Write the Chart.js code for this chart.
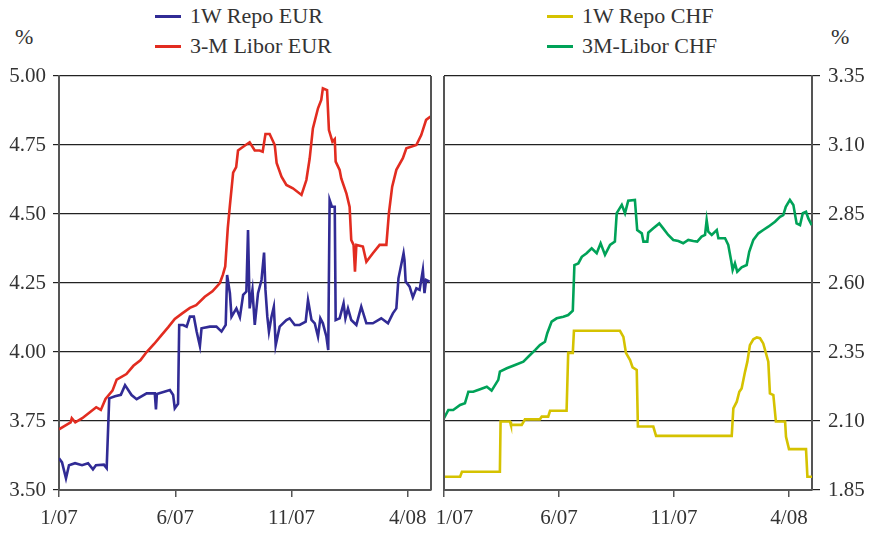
<!DOCTYPE html>
<html>
<head>
<meta charset="utf-8">
<script src="https://cdn.jsdelivr.net/npm/chart.js@4.4.1/dist/chart.umd.min.js"></script>
<style>
  body{margin:0;background:#fff;width:870px;height:534px;overflow:hidden;position:relative;font-family:"Liberation Serif",serif;color:#333}
  canvas{position:absolute;left:0;top:0}
  .lg{position:absolute;font-size:22px;line-height:30px;white-space:nowrap}
  .lg i{display:inline-block;width:26px;height:3px;vertical-align:middle;margin-right:9px;position:relative;top:-1px}
  .pc{position:absolute;font-size:22px;line-height:22px}
</style>
</head>
<body>
<div class="pc" style="left:15px;top:26px">%</div>
<div class="pc" style="left:831px;top:26px">%</div>
<div class="lg" style="left:155px;top:1px">
  <div><i style="background:#312b95"></i>1W Repo EUR</div>
  <div><i style="background:#e22c20"></i>3-M Libor EUR</div>
</div>
<div class="lg" style="left:547px;top:1px">
  <div><i style="background:#d5c200"></i>1W Repo CHF</div>
  <div><i style="background:#00a258"></i>3M-Libor CHF</div>
</div>
<canvas id="eur" width="870" height="534"></canvas>
<canvas id="chf" width="870" height="534"></canvas>
<script>
// x values are months since 1/07
const tickMonths = [0, 5, 10, 15];
const tickLabels = ['1/07', '6/07', '11/07', '4/08'];
const eurTicks = [3.50, 3.75, 4.00, 4.25, 4.50, 4.75, 5.00];
const chfTicks = [1.85, 2.10, 2.35, 2.60, 2.85, 3.10, 3.35];

const repoEurX = [0,0.13,0.30,0.43,0.69,0.99,1.25,1.46,1.59,1.93,2.05,2.16,2.41,2.66,2.84,3.12,3.34,3.77,4.12,4.17,4.21,4.77,4.91,4.98,5.12,5.17,5.34,5.49,5.63,5.80,5.92,6.06,6.13,6.49,6.77,6.99,7.17,7.23,7.35,7.42,7.63,7.78,7.92,8.06,8.13,8.20,8.32,8.42,8.56,8.71,8.82,8.88,8.96,9.03,9.14,9.24,9.32,9.49,9.78,9.92,10.14,10.35,10.61,10.71,10.86,11.00,11.14,11.24,11.35,11.50,11.58,11.64,11.74,11.86,11.90,12.07,12.24,12.32,12.43,12.57,12.79,13.00,13.22,13.50,13.86,14.15,14.36,14.51,14.60,14.82,14.86,14.91,15.08,15.22,15.37,15.51,15.65,15.72,15.79,15.94];
const repoEurY = [3.615,3.60,3.542,3.59,3.597,3.59,3.597,3.575,3.59,3.592,3.579,3.832,3.84,3.845,3.88,3.844,3.829,3.85,3.85,3.792,3.848,3.862,3.844,3.796,3.812,4.098,4.098,4.092,4.128,4.128,4.074,4.022,4.086,4.092,4.092,4.074,4.098,4.279,4.213,4.128,4.158,4.126,4.207,4.219,4.442,4.158,4.225,4.098,4.213,4.261,4.36,4.225,4.128,4.074,4.128,4.164,4.025,4.092,4.116,4.122,4.098,4.098,4.11,4.188,4.116,4.104,4.056,4.122,4.104,4.056,4.007,4.551,4.526,4.526,4.116,4.122,4.176,4.122,4.158,4.116,4.098,4.164,4.104,4.104,4.122,4.104,4.14,4.158,4.267,4.358,4.333,4.255,4.237,4.198,4.231,4.225,4.297,4.213,4.261,4.255];

const liborEurX = [0,0.3,0.5,0.55,0.7,1.0,1.3,1.6,1.8,2.0,2.3,2.48,2.9,3.2,3.5,3.77,4.1,4.4,4.7,4.98,5.3,5.63,5.9,6.27,6.6,6.92,7.05,7.15,7.26,7.35,7.49,7.62,7.70,7.86,8.03,8.20,8.42,8.63,8.76,8.88,9.06,9.28,9.36,9.57,9.78,10.06,10.43,10.64,10.78,10.92,11.14,11.28,11.35,11.53,11.61,11.76,11.86,11.90,12.07,12.14,12.36,12.50,12.57,12.67,12.73,12.79,13.07,13.22,13.50,13.79,14.08,14.19,14.33,14.51,14.79,14.94,15.37,15.58,15.79,15.98];
const liborEurY = [3.72,3.735,3.745,3.76,3.745,3.76,3.78,3.80,3.79,3.83,3.86,3.90,3.92,3.95,3.97,4.00,4.03,4.06,4.09,4.12,4.14,4.16,4.17,4.20,4.22,4.25,4.28,4.31,4.45,4.53,4.65,4.67,4.73,4.74,4.75,4.76,4.73,4.73,4.726,4.79,4.79,4.75,4.685,4.635,4.605,4.593,4.569,4.623,4.70,4.81,4.883,4.913,4.955,4.949,4.804,4.762,4.771,4.69,4.66,4.629,4.575,4.526,4.406,4.388,4.291,4.388,4.382,4.327,4.358,4.388,4.388,4.503,4.599,4.66,4.702,4.738,4.75,4.786,4.841,4.853];

const repoChfX = [0,0.70,0.78,2.43,2.46,2.87,2.91,3.38,3.52,4.17,4.25,4.53,4.61,5.33,5.40,5.60,5.65,7.65,7.80,7.91,8.09,8.20,8.38,8.43,9.10,9.22,12.51,12.58,12.73,12.84,12.94,13.09,13.19,13.30,13.45,13.60,13.74,13.88,14.10,14.17,14.32,14.43,14.83,14.87,15.00,15.74,15.80,16.0];
const repoChfY = [1.898,1.898,1.916,1.916,2.098,2.098,2.086,2.086,2.106,2.106,2.116,2.116,2.137,2.137,2.347,2.347,2.427,2.427,2.405,2.347,2.321,2.294,2.285,2.08,2.08,2.046,2.046,2.146,2.17,2.206,2.218,2.279,2.315,2.375,2.396,2.403,2.40,2.381,2.315,2.20,2.194,2.098,2.098,2.043,1.998,1.998,1.898,1.898];

const liborChfX = [0,0.19,0.40,0.70,0.91,1.06,1.27,1.57,1.86,2.07,2.36,2.43,2.73,3.09,3.45,3.74,3.96,4.17,4.39,4.49,4.68,4.90,5.19,5.40,5.60,5.67,5.84,5.99,6.20,6.42,6.64,6.81,7.00,7.22,7.43,7.51,7.73,7.87,8.01,8.30,8.40,8.60,8.67,8.84,8.88,9.10,9.36,9.53,9.75,9.97,10.19,10.40,10.62,10.84,11.01,11.20,11.35,11.42,11.49,11.64,11.86,11.93,12.22,12.36,12.48,12.55,12.65,12.75,12.94,13.16,13.27,13.45,13.67,13.88,14.10,14.39,14.61,14.75,14.86,15.04,15.19,15.33,15.48,15.60,15.74,15.84,15.99];
const liborChfY = [2.11,2.14,2.14,2.158,2.164,2.206,2.206,2.215,2.224,2.21,2.249,2.279,2.291,2.303,2.315,2.339,2.357,2.375,2.387,2.418,2.46,2.472,2.478,2.484,2.50,2.665,2.671,2.695,2.708,2.726,2.708,2.744,2.702,2.738,2.75,2.853,2.883,2.853,2.898,2.901,2.792,2.78,2.75,2.75,2.782,2.798,2.816,2.798,2.774,2.756,2.752,2.744,2.756,2.752,2.75,2.768,2.774,2.828,2.786,2.774,2.792,2.762,2.762,2.738,2.683,2.647,2.671,2.641,2.657,2.665,2.713,2.756,2.78,2.792,2.804,2.822,2.84,2.846,2.876,2.901,2.883,2.816,2.81,2.853,2.858,2.834,2.81];

const font = { family: 'Liberation Serif', size: 21 };
const pts = (xs, ys) => xs.map((x, i) => ({ x: x, y: ys[i] }));

// plain vertical edge on the side of the plot that has no axis
const frameEdge = {
  id: 'frameEdge',
  afterDraw(chart, args, opts) {
    const a = chart.chartArea, ctx = chart.ctx;
    const x = opts.side === 'right' ? a.right : a.left;
    ctx.save();
    ctx.strokeStyle = '#555';
    ctx.lineWidth = 2;
    ctx.beginPath();
    ctx.moveTo(x, a.top);
    ctx.lineTo(x, a.bottom);
    ctx.stroke();
    ctx.restore();
  }
};

// shiftFirst: the right panel nudges its first label right so it clears "4/08"
function xAxis(shiftFirst) {
  return {
    type: 'linear', min: 0, max: 16,
    afterBuildTicks: s => { s.ticks = tickMonths.map(v => ({ value: v })); },
    afterFit: s => { s.height = 44; },
    ticks: {
      callback: (v, i) => (shiftFirst && i === 0 ? '    ' : '') + tickLabels[tickMonths.indexOf(v)],
      color: '#333', font: font, padding: 9, maxRotation: 0, autoSkip: false
    },
    grid: { drawOnChartArea: false, tickLength: 7, color: '#555', lineWidth: 1.5 },
    border: { color: '#555', width: 2 }
  };
}

function yAxis(ticks, pos, width) {
  return {
    position: pos, min: ticks[0], max: ticks[ticks.length - 1],
    afterBuildTicks: s => { s.ticks = ticks.map(v => ({ value: v })); },
    afterFit: s => { s.width = width; },
    ticks: { callback: v => v.toFixed(2), color: '#333', font: font, padding: pos === 'left' ? 7 : 8 },
    grid: { color: '#222', lineWidth: 1.2, tickLength: pos === 'left' ? 6 : 8 },
    border: { color: '#555', width: 2 }
  };
}

function line(label, data, color) {
  return { label: label, data: data, borderColor: color, borderWidth: 2.6, pointRadius: 0, tension: 0, fill: false };
}

new Chart(document.getElementById('eur'), {
  type: 'line',
  data: { datasets: [
    line('1W Repo EUR', pts(repoEurX, repoEurY), '#312b95'),
    line('3-M Libor EUR', pts(liborEurX, liborEurY), '#e22c20')
  ]},
  options: {
    responsive: false, animation: false,
    layout: { padding: { left: 0, top: 76, right: 439, bottom: 0 } },
    plugins: { legend: { display: false }, tooltip: { enabled: false }, frameEdge: { side: 'right' } },
    scales: { x: xAxis(false), y: yAxis(eurTicks, 'left', 59) }
  },
  plugins: [frameEdge]
});

new Chart(document.getElementById('chf'), {
  type: 'line',
  data: { datasets: [
    line('1W Repo CHF', pts(repoChfX, repoChfY), '#d5c200'),
    line('3M-Libor CHF', pts(liborChfX, liborChfY), '#00a258')
  ]},
  options: {
    responsive: false, animation: false,
    layout: { padding: { left: 444, top: 76, right: 0, bottom: 0 } },
    plugins: { legend: { display: false }, tooltip: { enabled: false }, frameEdge: { side: 'left' } },
    scales: { x: xAxis(true), y: yAxis(chfTicks, 'right', 58) }
  },
  plugins: [frameEdge]
});
</script>
</body>
</html>
